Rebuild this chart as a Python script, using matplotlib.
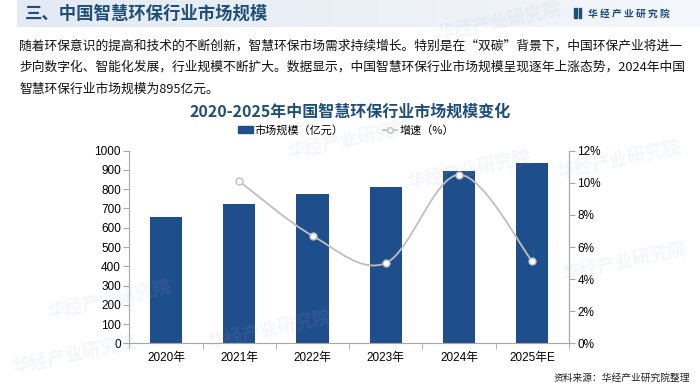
import numpy as np
import matplotlib
matplotlib.use("Agg")
from matplotlib import pyplot as plt
from matplotlib.path import Path
from matplotlib.patches import PathPatch, Patch, Rectangle
from matplotlib.lines import Line2D

plt.rcParams['font.family'] = ['Liberation Sans', 'Noto Sans CJK SC', 'DejaVu Sans']

# data
years = ["2020年", "2021年", "2022年", "2023年", "2024年", "2025年E"]
market_size = [657, 725, 774, 810, 895, 938]          # 亿元
growth_years = [1, 2, 3, 4, 5]                         # index into years
growth_rate = [0.101, 0.067, 0.050, 0.105, 0.051]     # 增速

cjk = ['Noto Sans CJK SC', 'DejaVu Sans']
dark_blue = "#1F4E79"
bar_blue = "#1F4E8C"
line_gray = "#BFBFBF"

fig = plt.figure(figsize=(7, 3.87), dpi=100)
W, H = 700, 387

def fx(px):
    return px / W

def fy(py):
    return 1 - py / H

# header band with light gradient
band = fig.add_axes([fx(17), fy(27), fx(683), 27 / H])
grad = np.linspace(0, 1, 256).reshape(1, -1)
band.imshow(grad, aspect="auto", cmap=matplotlib.colors.LinearSegmentedColormap.from_list(
    "b", ["#E3EAF3", "#F4F7FB"]), extent=[0, 1, 0, 1])
band.axis("off")

fig.text(fx(25), fy(14), "三、中国智慧环保行业市场规模", family=cjk, fontsize=12.5,
         fontweight="bold", color=dark_blue, va="center")

# logo top right
fig.patches.append(Rectangle((fx(574), fy(18)), fx(2.5), 10 / H, transform=fig.transFigure,
                             color=dark_blue))
fig.patches.append(Rectangle((fx(578.5), fy(18)), fx(2.5), 10 / H, transform=fig.transFigure,
                             color=dark_blue))
fig.text(fx(588), fy(13.5), "华 经 产 业 研 究 院", family=cjk, fontsize=7,
         fontweight="bold", color=dark_blue, va="center")

# paragraph
lines = [
    "随着环保意识的提高和技术的不断创新，智慧环保市场需求持续增长。特别是在“双碳”背景下，中国环保产业将进一",
    "步向数字化、智能化发展，行业规模不断扩大。数据显示，中国智慧环保行业市场规模呈现逐年上涨态势，2024年中国",
    "智慧环保行业市场规模为895亿元。",
]
for i, t in enumerate(lines):
    fig.text(fx(19), fy(46 + i * 21.5), t, family=cjk, fontsize=9.2, color="#111111",
             va="center")

# faint watermarks
wm = [(110, 300), (470, 170), (270, 330), (500, 22), (350, 140), (75, 355), (620, 160),
      (625, 262)]
for x, y in wm:
    fig.text(fx(x), fy(y), "华经产业研究院", family=cjk, fontsize=13, fontweight="bold",
             color="#9FB3CC", alpha=0.12, rotation=12, ha="center", va="center", zorder=0)

# chart title
fig.text(fx(350), fy(112), "2020-2025年中国智慧环保行业市场规模变化", family=cjk,
         fontsize=11.5, fontweight="bold", color=dark_blue, ha="center", va="center")

# main axes
ax = fig.add_axes([fx(129.3), fy(343.3), fx(569 - 129.3), (343.3 - 150.7) / H])
ax.patch.set_alpha(0)
x = np.arange(len(years))
ax.bar(x, market_size, width=0.44, color=bar_blue, zorder=2)
ax.set_xlim(-0.5, len(years) - 0.5)
ax.set_ylim(0, 1000)
ax.set_yticks(range(0, 1001, 100))
ax.set_xticks(x)
ax.set_xticklabels(years, fontsize=8.5)
ax.set_xticks(np.arange(-0.5, len(years), 1), minor=True)
ax.tick_params(axis="x", which="major", length=0, pad=6)
ax.tick_params(axis="x", which="minor", length=4, color="#A6A6A6")
ax.tick_params(axis="y", length=4, color="#A6A6A6", labelsize=8.5, pad=2)
for s in ["left", "bottom", "right"]:
    ax.spines[s].set_color("#A6A6A6")
ax.spines["top"].set_visible(False)

ax2 = ax.twinx()
ax2.set_ylim(0, 0.12)
ax2.set_yticks(np.arange(0, 0.121, 0.02))
ax2.set_yticklabels([f"{int(round(v * 100))}%" for v in np.arange(0, 0.121, 0.02)])
ax2.tick_params(axis="y", length=4, color="#A6A6A6", labelsize=8.5, pad=2)
ax2.spines["right"].set_color("#A6A6A6")
ax2.spines["top"].set_visible(False)
ax2.spines["left"].set_visible(False)
ax2.spines["bottom"].set_visible(False)

# smoothed line (Catmull-Rom as cubic Bezier through the data points)
pts = np.column_stack([growth_years, growth_rate]).astype(float)
ext = np.vstack([pts[0], pts, pts[-1]])
verts = [tuple(pts[0])]
codes = [Path.MOVETO]
for i in range(1, len(ext) - 2):
    p0, p1, p2, p3 = ext[i - 1], ext[i], ext[i + 1], ext[i + 2]
    c1 = p1 + (p2 - p0) / 6
    c2 = p2 - (p3 - p1) / 6
    verts += [tuple(c1), tuple(c2), tuple(p2)]
    codes += [Path.CURVE4] * 3
ax2.add_patch(PathPatch(Path(verts, codes), fill=False, edgecolor=line_gray, lw=1.3, zorder=3))
ax2.plot(growth_years, growth_rate, ls="none", marker="o", ms=5, mfc="white",
         mec=line_gray, mew=1.0, zorder=4)

handles = [Patch(color=bar_blue),
           Line2D([], [], color=line_gray, lw=1.2, marker="o", ms=4, mfc="white", mec=line_gray)]
fig.legend(handles, ["市场规模（亿元）", "增速（%）"], loc="center", ncol=2,
           bbox_to_anchor=(fx(346), fy(130)), frameon=False, prop={"family": cjk, "size": 8},
           handlelength=1.3, handleheight=0.5, handletextpad=0.2, columnspacing=3.5)

fig.text(fx(690), fy(378), "资料来源：华经产业研究院整理", family=cjk, fontsize=7,
         color="#222222", ha="right", va="center")

fig.savefig("out.png", dpi=100)
